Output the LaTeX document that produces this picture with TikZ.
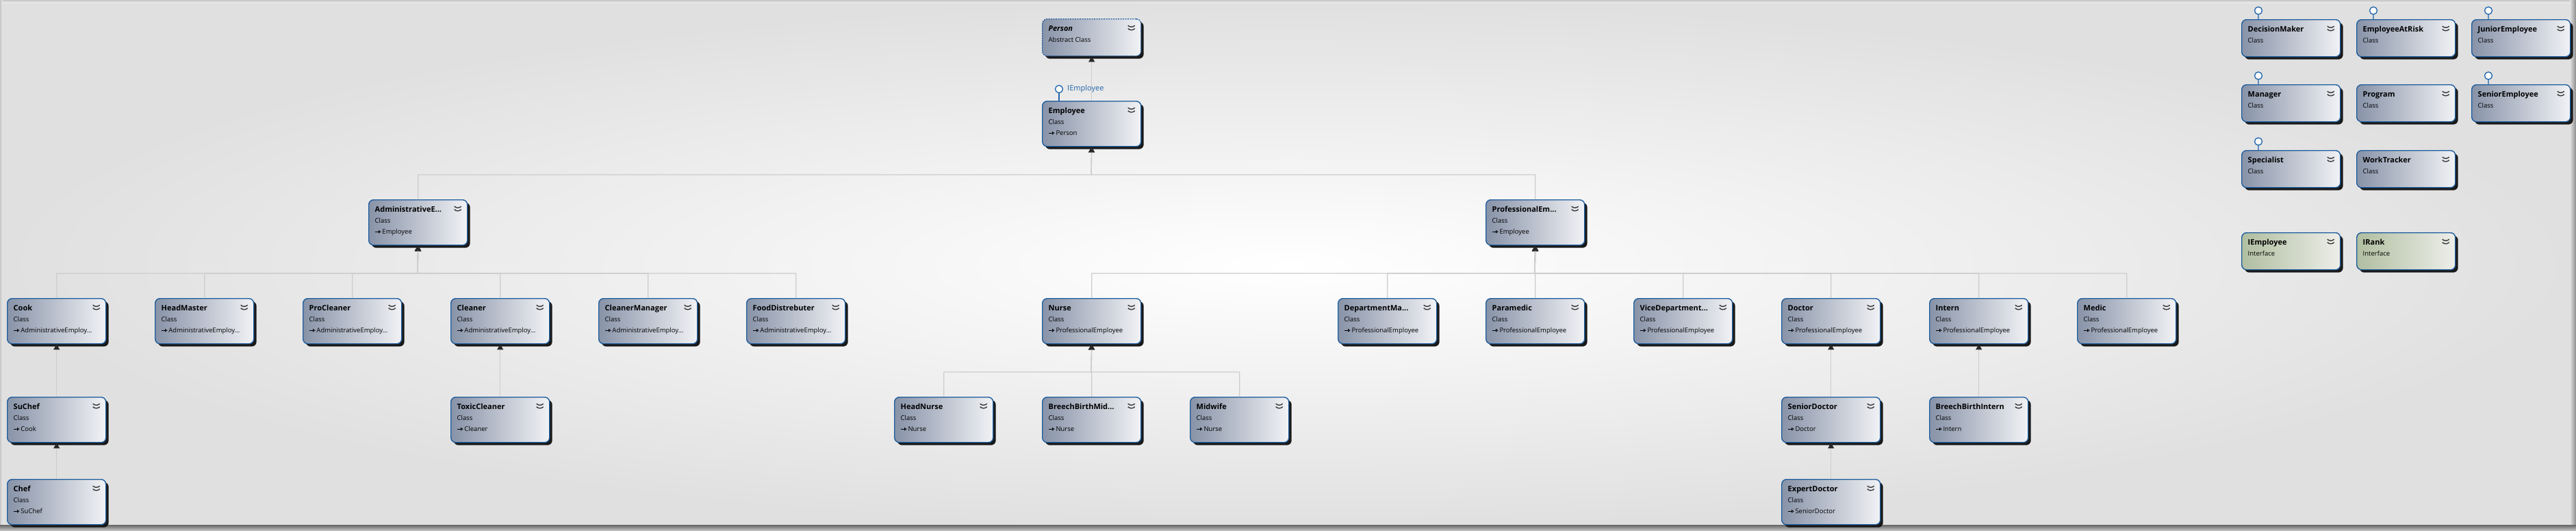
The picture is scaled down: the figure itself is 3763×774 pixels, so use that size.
\documentclass[tikz,border=0pt]{standalone}
\usepackage{fontspec}
\setmainfont{Open Sans}
\usetikzlibrary{arrows.meta,shadows}

\definecolor{boxblue}{RGB}{31,94,158}
\definecolor{boxleft}{RGB}{136,147,168}
\definecolor{boxright}{RGB}{241,242,245}
\definecolor{ifleft}{RGB}{176,190,160}
\definecolor{ifright}{RGB}{237,238,233}
\definecolor{shadowgray}{RGB}{25,25,25}
\definecolor{linegray}{RGB}{205,205,205}
\definecolor{tipgray}{RGB}{40,40,40}
\definecolor{iconblue}{RGB}{30,100,170}
\definecolor{chevgray}{RGB}{55,55,55}
\definecolor{bgouter}{RGB}{224,224,224}

% inheritance glyph in front of the base class
\newcommand{\inh}{\tikz[baseline=-3pt]\draw[draw=black,line width=0.7pt,-{Triangle[open,length=3.5pt,width=4.5pt]}] (0pt,0pt) -- (8.5pt,0pt);}
% box texts: title, kind, base class
\newcommand{\clstxt}[3]{\parbox[t][54pt][t]{126pt}{\raggedright\fontsize{9.5}{15.75}\selectfont\rule{0pt}{12pt}{\fontsize{11}{15.75}\selectfont\bfseries #1}\\#2\\\inh\,#3}}
\newcommand{\clsshort}[2]{\parbox[t][42pt][t]{126pt}{\raggedright\fontsize{9.5}{15.75}\selectfont\rule{0pt}{12pt}{\fontsize{11}{15.75}\selectfont\bfseries #1}\\#2}}

\tikzset{
  classbox/.style={draw=boxblue, line width=1.4pt, rounded corners=7pt,
    left color=boxleft, right color=boxright, inner xsep=9pt, inner ysep=6pt,
    anchor=north west,
    drop shadow={opacity=1, shadow xshift=4pt, shadow yshift=-4pt, fill=shadowgray},
    path picture={\draw[solid, line width=1.4pt, chevgray, line join=miter]
      ([shift={(-18.5pt,-10pt)}]path picture bounding box.north east) -- ++(4.5pt,-4.5pt) -- ++(4.5pt,4.5pt)
      ([shift={(-18.5pt,-14.5pt)}]path picture bounding box.north east) -- ++(4.5pt,-4.5pt) -- ++(4.5pt,4.5pt);}},
  ifacebox/.style={classbox, left color=ifleft, right color=ifright},
  abstractbox/.style={classbox, dash pattern=on 2pt off 1.5pt},
  inherit/.style={draw=linegray, line width=1.4pt, -{Triangle[length=8pt,width=9pt,color=tipgray]}},
  lolli/.style={draw=iconblue, line width=1.3pt},
  lollilabel/.style={text=iconblue, font=\fontsize{11}{13}\selectfont, inner sep=1pt, anchor=west}
}

\begin{document}
\begin{tikzpicture}[x=1pt,y=-1pt]
    \useasboundingbox (0,0) rectangle (3763,774);

    % Background and frame
    \shade[inner color=white, outer color=bgouter] (0,0) rectangle (3763,774);
    \shade[top color=black!22, bottom color=black!8] (0,0) rectangle (3763,4);
    \shade[left color=black!22, right color=black!8] (0,0) rectangle (4,774);
    \shade[left color=black!12, right color=black!45] (3754,0) rectangle (3763,774);
    \shade[top color=black!60, bottom color=black!25] (0,766) rectangle (3763,774);

    % Top of the hierarchy
    \node[abstractbox] (person) at (1522,27) {\clsshort{\itshape Person}{Abstract Class}};
    \node[classbox] (emp) at (1522,147) {\clstxt{Employee}{Class}{Person}};
    \node[classbox] (adm) at (538,291) {\clstxt{AdministrativeE...}{Class}{Employee}};
    \node[classbox] (prof) at (2170,291) {\clstxt{ProfessionalEm...}{Class}{Employee}};

    % Administrative employees
    \foreach \n/\t/\x in {cook/Cook/10, headmaster/HeadMaster/226, procleaner/ProCleaner/442,
        cleaner/Cleaner/658, cleanermgr/CleanerManager/874, fooddist/FoodDistrebuter/1090} {
        \node[classbox] (\n) at (\x,435) {\clstxt{\t}{Class}{AdministrativeEmploy...}};
    }

    % Professional employees
    \foreach \n/\t/\x in {nurse/Nurse/1522, deptmgr/DepartmentMa.{}../1954, paramedic/Paramedic/2170,
        vicedept/ViceDepartment.{}../2386, doctor/Doctor/2602, intern/Intern/2818, medic/Medic/3034} {
        \node[classbox] (\n) at (\x,435) {\clstxt{\t}{Class}{ProfessionalEmployee}};
    }

    % Lower levels
    \node[classbox] (suchef) at (10,579) {\clstxt{SuChef}{Class}{Cook}};
    \node[classbox] (chef) at (10,699) {\clstxt{Chef}{Class}{SuChef}};
    \node[classbox] (toxic) at (658,579) {\clstxt{ToxicCleaner}{Class}{Cleaner}};
    \node[classbox] (headnurse) at (1306,579) {\clstxt{HeadNurse}{Class}{Nurse}};
    \node[classbox] (breechmid) at (1522,579) {\clstxt{BreechBirthMid...}{Class}{Nurse}};
    \node[classbox] (midwife) at (1738,579) {\clstxt{Midwife}{Class}{Nurse}};
    \node[classbox] (seniordoc) at (2602,579) {\clstxt{SeniorDoctor}{Class}{Doctor}};
    \node[classbox] (expertdoc) at (2602,699) {\clstxt{ExpertDoctor}{Class}{SeniorDoctor}};
    \node[classbox] (breechintern) at (2818,579) {\clstxt{BreechBirthIntern}{Class}{Intern}};

    % Loose classes and interfaces
    \node[classbox] (dm) at (3274,28) {\clsshort{DecisionMaker}{Class}};
    \node[classbox] (risk) at (3442,28) {\clsshort{EmployeeAtRisk}{Class}};
    \node[classbox] (junior) at (3610,28) {\clsshort{JuniorEmployee}{Class}};
    \node[classbox] (mgr) at (3274,123) {\clsshort{Manager}{Class}};
    \node[classbox] (program) at (3442,123) {\clsshort{Program}{Class}};
    \node[classbox] (senior) at (3610,123) {\clsshort{SeniorEmployee}{Class}};
    \node[classbox] (spec) at (3274,219) {\clsshort{Specialist}{Class}};
    \node[classbox] (tracker) at (3442,219) {\clsshort{WorkTracker}{Class}};
    \node[ifacebox] (iemp) at (3274,339) {\clsshort{IEmployee}{Interface}};
    \node[ifacebox] (irank) at (3442,339) {\clsshort{IRank}{Interface}};

    % Interface lollipops
    \coordinate (empsock) at ([shift={(25pt,17pt)}]emp.north west);
    \draw[lolli] ([xshift=25pt]emp.north west) -- ([yshift=-5.5pt]empsock);
    \draw[lolli, fill=white] (empsock) circle[radius=5.5pt];
    \node[lollilabel] (empiface) at ([xshift=11pt]empsock) {IEmployee};
    \foreach \n in {dm,risk,junior,mgr,senior,spec} {
        \draw[lolli, fill=white] ([xshift=25pt]\n.north west) -- ++(0pt,7pt) ++(0pt,5.5pt) circle[radius=5.5pt];
    }

    % Inheritance connectors
    \draw[inherit] (emp.north) -- (person.south);
    \coordinate (empjoin) at (1594,255);
    \foreach \c in {adm,prof} \draw[inherit] (\c.north) |- (empjoin) -- (emp.south);
    \coordinate (admjoin) at (610,399);
    \foreach \c in {cook,headmaster,procleaner,cleaner,cleanermgr,fooddist}
        \draw[inherit] (\c.north) |- (admjoin) -- (adm.south);
    \coordinate (profjoin) at (2242,399);
    \foreach \c in {nurse,deptmgr,paramedic,vicedept,doctor,intern,medic}
        \draw[inherit] (\c.north) |- (profjoin) -- (prof.south);
    \coordinate (nursejoin) at (1594,543);
    \foreach \c in {headnurse,breechmid,midwife}
        \draw[inherit] (\c.north) |- (nursejoin) -- (nurse.south);
    \draw[inherit] (suchef.north) -- (cook.south);
    \draw[inherit] (chef.north) -- (suchef.south);
    \draw[inherit] (toxic.north) -- (cleaner.south);
    \draw[inherit] (seniordoc.north) -- (doctor.south);
    \draw[inherit] (expertdoc.north) -- (seniordoc.south);
    \draw[inherit] (breechintern.north) -- (intern.south);
\end{tikzpicture}
\end{document}
